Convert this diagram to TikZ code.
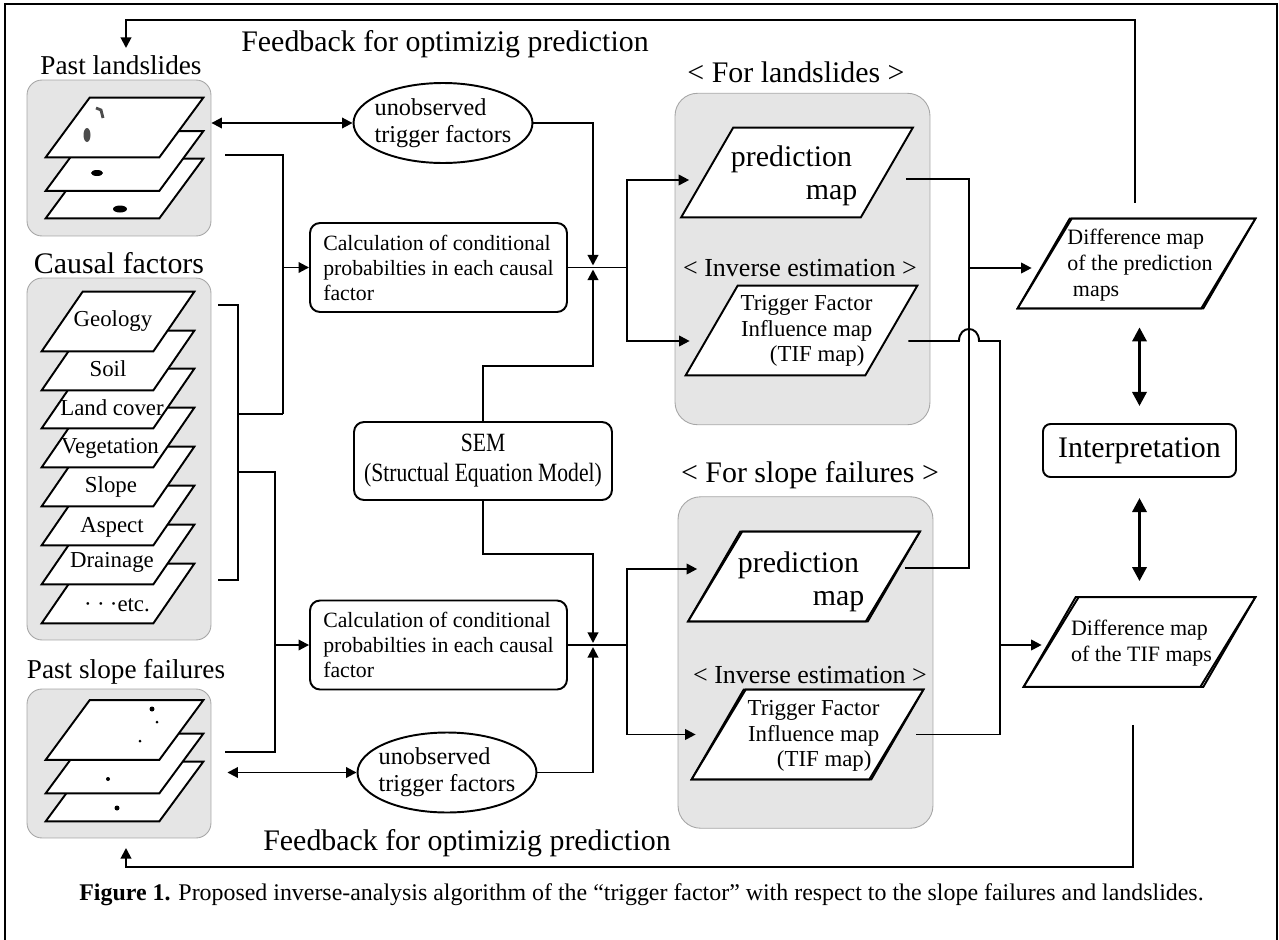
\documentclass[tikz,border=0pt]{standalone}
\usepackage{fontspec}
\setmainfont{Liberation Serif}
\newfontfamily\narrowserif[FakeStretch=0.82]{Liberation Serif}
\usetikzlibrary{shapes.geometric,arrows.meta,calc}

\begin{document}
\begin{tikzpicture}[x=0.02cm, y=-0.02cm,
        line/.style={line width=1.1pt},
        arrow/.style={line width=1.1pt, -{Triangle[length=6pt,width=6pt]}},
        dblarrow/.style={line width=1.1pt, {Triangle[length=6pt,width=6pt]}-{Triangle[length=6pt,width=6pt]}},
        bigarrow/.style={line width=1.8pt, {Triangle[length=8pt,width=8pt]}-{Triangle[length=8pt,width=8pt]}},
        panel/.style={draw=gray!70, line width=0.5pt, fill=gray!20, rounded corners=0.3cm, minimum width=3.68cm},
        group/.style={draw=gray!70, line width=0.5pt, fill=gray!20, rounded corners=0.45cm, minimum width=5.1cm, minimum height=6.63cm},
        slab/.style={inner sep=0pt, append after command={\pgfextra{\begin{pgfinterruptpath}
            \draw[line width=1.1pt, fill=white] (\tikzlastnode.south west) -- ([xshift=-#1]\tikzlastnode.south east)
                -- (\tikzlastnode.north east) -- ([xshift=#1]\tikzlastnode.north west) -- cycle;
            \end{pgfinterruptpath}}}},
        layer/.style={slab=0.88cm, minimum width=3.14cm, minimum height=1.18cm},
        factor/.style={slab=0.82cm, minimum width=3.04cm, minimum height=1.18cm},
        map/.style={slab=1.04cm, minimum width=4.62cm, minimum height=1.78cm},
        calcbox/.style={draw, line width=1.1pt, rounded corners=0.2cm, minimum width=5.14cm, minimum height=1.78cm, align=left, font=\fontsize{12.4}{14.2}\selectfont},
        roundbox/.style={draw, line width=1.1pt, rounded corners=0.2cm, align=center},
        trigger/.style={ellipse, draw, line width=1.1pt, inner xsep=-0.2cm, inner ysep=0pt, minimum width=3.58cm, minimum height=1.6cm, align=left, font=\fontsize{13.8}{15.3}\selectfont},
        title/.style={inner sep=0pt, font=\fontsize{15.5}{18}\selectfont},
        big/.style={inner sep=0pt, font=\fontsize{17}{18.7}\selectfont},
        small/.style={inner sep=0pt, font=\fontsize{13}{15}\selectfont},
        maptext/.style={inner sep=0pt, align=right, font=\fontsize{13}{14.7}\selectfont},
        difftext/.style={inner sep=0pt, align=left, font=\fontsize{12.5}{14.7}\selectfont}
    ]
    \useasboundingbox (0,0) rectangle (1279,940);
    \draw[line width=0.7pt] (5,950) -- (5,4) -- (1277,4) -- (1277,950);

    % Past landslides
    \node[title] (lslabel) at (121,65) {Past landslides};
    \node[panel, minimum height=3.12cm] (pastls) at (119,158) {};
    \node[layer] (ls3) at (124.5,188.5) {};
    \node[layer] (ls2) at (124.5,161) {};
    \node[layer] (ls1) at (124.5,127.5) {};
    \draw[gray!60!black, line width=1.6pt] (96,108) -- (101,110) -- (103,118);
    \fill[gray!60!black] (87,135) ellipse [x radius=0.07cm, y radius=0.14cm];
    \fill (97,173) ellipse [x radius=0.12cm, y radius=0.06cm];
    \fill (120,209) ellipse [x radius=0.14cm, y radius=0.07cm];

    % Causal factors
    \node[big] (cflabel) at (119,263) {Causal factors};
    \node[panel, minimum height=7.24cm] (causal) at (119,459) {};
    \node[factor] (etc) at (118,593.5) {};
    \node[small] (etctext) at (117,605) {·\hspace{3pt}·\hspace{3pt}·etc.};
    \node[factor] (drain) at (118,554.5) {};
    \node[small] (draintext) at (112,562) {Drainage};
    \node[factor] (aspect) at (118,515.5) {};
    \node[small] (aspecttext) at (112,527) {Aspect};
    \node[factor] (slope) at (118,476.5) {};
    \node[small] (slopetext) at (111,487) {Slope};
    \node[factor] (veg) at (118,437.5) {};
    \node[small] (vegtext) at (110,448) {Vegetation};
    \node[factor] (cover) at (118,398.5) {};
    \node[small] (covertext) at (112,408) {Land cover};
    \node[factor] (soil) at (118,360.5) {};
    \node[small] (soiltext) at (108,369) {Soil};
    \node[factor] (geol) at (118,321.5) {};
    \node[small] (geoltext) at (113,321) {Geology};

    % Past slope failures
    \node[title] (sflabel) at (126,672) {Past slope failures};
    \node[panel, minimum height=2.98cm] (pastsf) at (119,763.5) {};
    \node[layer] (sf3) at (124.5,791.5) {};
    \node[layer] (sf2) at (124.5,763.5) {};
    \node[layer] (sf1) at (124.5,730) {};
    \fill (152,709) circle [radius=0.05cm];
    \fill (157,722) circle [radius=0.03cm];
    \fill (140,741) circle [radius=0.03cm];
    \fill (108,779) circle [radius=0.04cm];
    \fill (117,808) circle [radius=0.05cm];

    % Middle column
    \node[trigger] (trig1) at (443,123) {unobserved\\trigger factors};
    \node[calcbox] (calc1) at (438.5,267.5) {Calculation of conditional\\probabilties in each causal\\factor};
    \node[roundbox, minimum width=5.16cm, minimum height=1.56cm, font=\narrowserif\fontsize{15}{17}\selectfont] (sem) at (483,461) {SEM\\(Structual Equation Model)};
    \node[calcbox] (calc2) at (438.5,645) {Calculation of conditional\\probabilties in each causal\\factor};
    \node[trigger] (trig2) at (447,772.5) {unobserved\\trigger factors};

    % For landslides
    \node[big] (lsgroup) at (796,72) {< For landslides >};
    \node[group] (forls) at (802.5,259) {};
    \node[map] (pred1) at (797,172.5) {};
    \node[big, align=right] (pred1text) at (791.5,176) {prediction\\map\kern-3pt};
    \node[inner sep=0pt, font=\fontsize{14.8}{17}\selectfont] (inv1) at (800,268) {< Inverse estimation >};
    \node[map] (tif1) at (801.5,330.5) {};
    \node[maptext] (tif1text) at (806.5,331) {Trigger Factor\\Influence map\\(TIF map)\kern4.5pt};

    % For slope failures
    \node[big] (sfgroup) at (810,475) {< For slope failures >};
    \node[group] (forsf) at (805.5,662.5) {};
    \node[map, slab=1.08cm] (pred2) at (804,576.5) {};
    \node[big, align=right] (pred2text) at (798.5,582) {prediction\\map\kern-3pt};
    \node[inner sep=0pt, font=\fontsize{14.8}{17}\selectfont] (inv2) at (810,675) {< Inverse estimation >};
    \node[map, slab=1.08cm] (tif2) at (807.5,734.5) {};
    \node[maptext] (tif2text) at (813.5,736) {Trigger Factor\\Influence map\\(TIF map)\kern4.5pt};

    % Right column
    \node[map, slab=1.08cm, minimum width=4.74cm] (diff1) at (1136.5,263.5) {};
    \node[difftext] (diff1text) at (1140,265) {Difference map\\of the prediction\\\ maps};
    \node[roundbox, big, minimum width=3.86cm, minimum height=1.06cm, rounded corners=0.15cm] (interp) at (1139.5,450.5) {Interpretation};
    \node[map, slab=1.1cm] (diff2) at (1139.5,642) {};
    \node[difftext] (diff2text) at (1141.5,643) {Difference map\\of the TIF maps};

    % Feedback labels and caption
    \node[big] (fb1) at (445,44) {Feedback for optimizig prediction};
    \node[big] (fb2) at (467,843) {Feedback for optimizig prediction};
    \node[inner sep=0pt, font=\fontsize{13.6}{16}\selectfont] (caption) at (641.5,895) {\textbf{Figure 1.} Proposed inverse-analysis algorithm of the “trigger factor” with respect to the slope failures and landslides.};

    % Junctions
    \coordinate (j1) at (283,414);
    \coordinate (j2) at (275,472);
    \coordinate (bt) at (238,305);
    \coordinate (bb) at (238,580);
    \coordinate (m1) at (593,267.5);
    \coordinate (m2) at (593,645);
    \coordinate (k1) at (627,267.5);
    \coordinate (k2) at (627,645);
    \coordinate (r1) at (969,268);
    \coordinate (r2) at (1000,645);
    \coordinate (lsin) at (126,48);
    \coordinate (sfin) at (126,848);

    % Edges: inputs
    \draw[line] ($(pastls.east)+(14,-3)$) -| (j1);
    \draw[line] ($(bt)+(-20,0)$) -- (bt) -- (bb) -- ++(-20,0);
    \draw[line] (bt |- j1) -- (j1);
    \draw[line] (bt |- j2) -- (j2) |- ($(pastsf.east)+(14,-11.5)$);
    \draw[arrow] (j1 |- calc1.west) -- (calc1.west);
    \draw[arrow] (j2 |- calc2.west) -- (calc2.west);
    \draw[dblarrow] (pastls.east |- trig1.west) -- (trig1.west);
    \draw[dblarrow] ($(pastsf.east |- trig2.west)+(16,0)$) -- (trig2.west);

    % Edges: junctions
    \draw[line] (calc1.east) -- (k1);
    \draw[line] (calc2.east) -- (k2);
    \draw[arrow] (trig1.east) -| ($(m1)+(0,-2)$);
    \draw[arrow] (sem.north) -- ++(0,-55) -| ($(m1)+(0,2)$);
    \draw[arrow] (sem.south) -- ++(0,53) -| ($(m2)+(0,-2)$);
    \draw[arrow] (trig2.east) -| ($(m2)+(0,2)$);
    \draw[arrow] (k1) |- ($(pred1.west)+(8,7.5)$);
    \draw[arrow] (k1) |- ($(tif1.west)+(4,10.5)$);
    \draw[arrow] (k2) |- ($(pred2.west)+(9,-7.5)$);
    \draw[arrow] (k2) |- ($(tif2.west)+(4,0)$);

    % Edges: maps to differences
    \coordinate (tif1out) at ($(tif1.east)+(-9,10.5)$);
    \coordinate (hop) at (r1 |- tif1out);
    \draw[line] ($(pred1.east)+(-7,6.5)$) -| (r1);
    \draw[line] ($(pred2.east)+(-15,-8.5)$) -| (r1);
    \draw[arrow] (r1) -- ($(diff1.west)+(14,4.5)$);
    \draw[line] (tif1out) -- ($(hop)+(-10,0)$) .. controls +(0,-16) and +(0,-16) .. ($(hop)+(10,0)$) -| (r2);
    \draw[line] ($(tif2.east)+(-7,0)$) -| (r2);
    \draw[arrow] (r2) -- ($(diff2.west)+(18,3)$);
    \draw[bigarrow] ($(interp.north)+(0,-17)$) -- ($(interp.north |- diff1.south)+(0,19)$);
    \draw[bigarrow] ($(interp.south)+(0,20)$) -- ($(interp.south |- diff2.north)+(0,-16)$);

    % Edges: feedback
    \draw[arrow] ($(diff1.north)+(-1.5,-16)$) |- ($(lsin)+(0,-28)$) -- (lsin);
    \draw[arrow] ($(diff2.south)+(-6.5,38)$) |- ($(sfin)+(0,19)$) -- (sfin);
\end{tikzpicture}
\end{document}
